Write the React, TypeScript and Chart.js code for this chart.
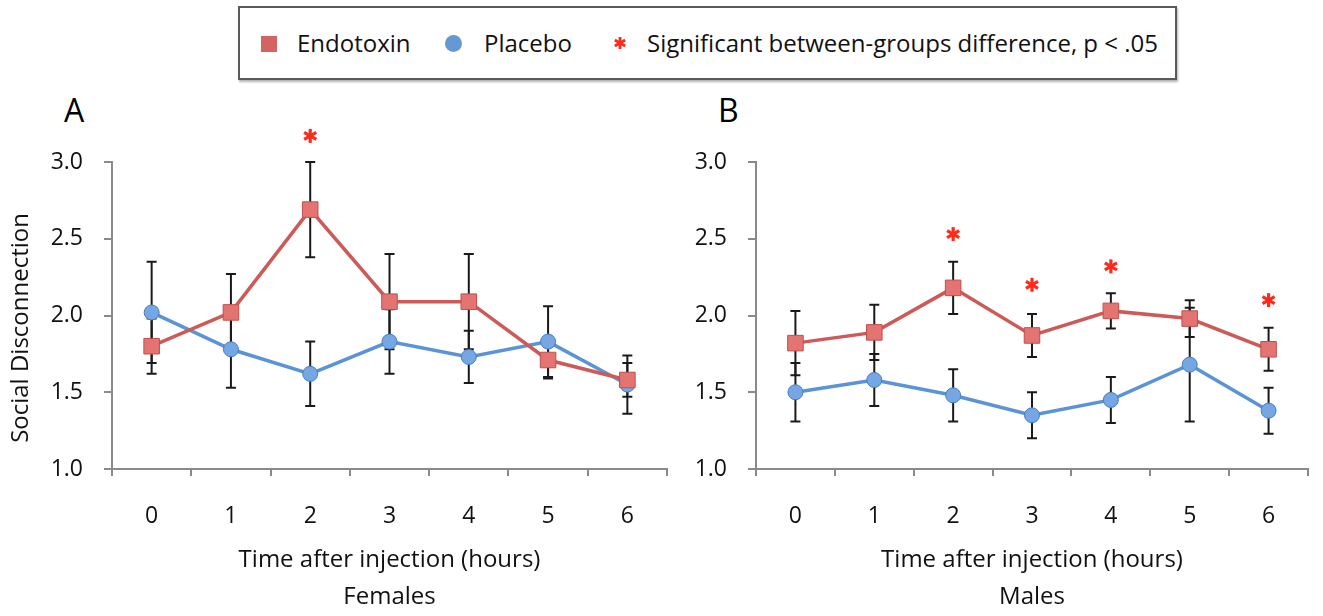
import { useEffect, useRef } from 'react'
import { Chart, registerables } from 'chart.js'

Chart.register(...registerables)

const hours = ['0', '1', '2', '3', '4', '5', '6']

const femalesEndotoxin = [1.80, 2.02, 2.69, 2.09, 2.09, 1.71, 1.58]
const femalesEndotoxinErr = [0.18, 0.25, 0.31, 0.31, 0.31, 0.12, 0.11]
const femalesPlacebo = [2.02, 1.78, 1.62, 1.83, 1.73, 1.83, 1.55]
const femalesPlaceboErr = [0.33, 0.25, 0.21, 0.21, 0.17, 0.23, 0.19]
const femalesStars = [null, null, 3.17, null, null, null, null]

const malesEndotoxin = [1.82, 1.89, 2.18, 1.87, 2.03, 1.98, 1.78]
const malesEndotoxinErr = [0.21, 0.18, 0.17, 0.14, 0.115, 0.12, 0.14]
const malesPlacebo = [1.50, 1.58, 1.48, 1.35, 1.45, 1.68, 1.38]
const malesPlaceboErr = [0.19, 0.17, 0.17, 0.15, 0.15, 0.37, 0.15]
const malesStars = [null, null, 2.53, 2.20, 2.32, null, 2.10]

const yTicks = [1.0, 1.5, 2.0, 2.5, 3.0]

const FONT = '"Open Sans", sans-serif'
const RED_LINE = '#cc5a57'
const RED_FILL = '#e37472'
const RED_EDGE = '#c0504d'
const BLUE_LINE = '#5a93d8'
const BLUE_FILL = '#74a7e4'
const BLUE_EDGE = '#4a7ebb'
const STAR = '#ff2a1a'

function drawStar(ctx: CanvasRenderingContext2D, x: number, y: number, r: number) {
  ctx.save()
  ctx.strokeStyle = STAR
  ctx.lineWidth = 3.2
  ctx.lineCap = 'butt'
  for (let k = 0; k < 3; k++) {
    const a = Math.PI / 2 + (k * Math.PI) / 3
    ctx.beginPath()
    ctx.moveTo(x - r * Math.cos(a), y - r * Math.sin(a))
    ctx.lineTo(x + r * Math.cos(a), y + r * Math.sin(a))
    ctx.stroke()
  }
  ctx.restore()
}

// error bars under the lines, asterisks on top
const errorBars = {
  id: 'errorBars',
  beforeDatasetsDraw(chart: any) {
    const { ctx, scales } = chart
    ctx.save()
    ctx.strokeStyle = '#1a1a1a'
    ctx.lineWidth = 2
    chart.data.datasets.forEach((ds: any) => {
      if (!ds.errors) return
      ds.data.forEach((v: number, i: number) => {
        const x = scales.x.getPixelForValue(i)
        const top = scales.y.getPixelForValue(v + ds.errors[i])
        const bot = scales.y.getPixelForValue(v - ds.errors[i])
        ctx.beginPath()
        ctx.moveTo(x, top)
        ctx.lineTo(x, bot)
        ctx.moveTo(x - 5, top)
        ctx.lineTo(x + 5, top)
        ctx.moveTo(x - 5, bot)
        ctx.lineTo(x + 5, bot)
        ctx.stroke()
      })
    })
    ctx.restore()
  },
  afterDatasetsDraw(chart: any) {
    const stars = chart.options.plugins.errorBars?.stars || []
    const { ctx, scales } = chart
    stars.forEach((v: number | null, i: number) => {
      if (v == null) return
      drawStar(ctx, scales.x.getPixelForValue(i), scales.y.getPixelForValue(v), 7)
    })
  },
}

interface PanelProps {
  endotoxin: number[]
  endotoxinErr: number[]
  placebo: number[]
  placeboErr: number[]
  stars: (number | null)[]
  group: string
  yTitle: boolean
  axisWidth: number
  padRight: number
  width: number
}

function Panel(p: PanelProps) {
  const ref = useRef<HTMLCanvasElement>(null)

  useEffect(() => {
    if (!ref.current) return
    const chart = new Chart(ref.current, {
      type: 'line',
      data: {
        labels: hours,
        datasets: [
          {
            label: 'Endotoxin',
            data: p.endotoxin,
            errors: p.endotoxinErr,
            borderColor: RED_LINE,
            borderWidth: 3.5,
            pointStyle: 'rect',
            pointRadius: 11,
            pointBackgroundColor: RED_FILL,
            pointBorderColor: RED_EDGE,
            pointBorderWidth: 1,
            tension: 0,
          } as any,
          {
            label: 'Placebo',
            data: p.placebo,
            errors: p.placeboErr,
            borderColor: BLUE_LINE,
            borderWidth: 3.5,
            pointStyle: 'circle',
            pointRadius: 7.5,
            pointBackgroundColor: BLUE_FILL,
            pointBorderColor: BLUE_EDGE,
            pointBorderWidth: 1,
            tension: 0,
          } as any,
        ],
      },
      options: {
        animation: false,
        responsive: false,
        events: [],
        layout: { padding: { left: 0, right: p.padRight, top: 77, bottom: 0 } },
        plugins: {
          legend: { display: false },
          tooltip: { enabled: false },
          errorBars: { stars: p.stars },
        } as any,
        scales: {
          x: {
            type: 'category',
            offset: true,
            grid: {
              offset: true,
              drawOnChartArea: false,
              drawTicks: true,
              tickLength: 7,
              color: '#8a8a8a',
              lineWidth: 2,
            },
            border: { display: true, color: '#8a8a8a', width: 2 },
            ticks: { color: '#111', font: { family: FONT, size: 23 }, padding: 27, maxRotation: 0 },
            title: {
              display: true,
              text: ['Time after injection (hours)', p.group],
              color: '#111',
              font: { family: FONT, size: 24, lineHeight: 1.55 },
              padding: { top: 0, bottom: 0 },
            },
            afterFit: (s: any) => { s.height = 147 },
          },
          y: {
            min: 1,
            max: 3,
            afterBuildTicks: (s: any) => { s.ticks = yTicks.map(v => ({ value: v })) },
            grid: {
              drawOnChartArea: false,
              drawTicks: true,
              tickLength: 8,
              color: '#8a8a8a',
              lineWidth: 2,
            },
            border: { display: true, color: '#8a8a8a', width: 2 },
            ticks: {
              color: '#111',
              font: { family: FONT, size: 23 },
              padding: 21,
              callback: (v: any) => Number(v).toFixed(1),
            },
            title: {
              display: p.yTitle,
              // trailing spaces push the rotated label a little below centre, as in the original
              text: 'Social Disconnection    ',
              color: '#111',
              font: { family: FONT, size: 24, lineHeight: 1.2 },
              padding: { top: 7, bottom: 0 },
            },
            afterFit: (s: any) => { s.width = p.axisWidth },
          },
        },
      },
      plugins: [errorBars],
    })
    return () => chart.destroy()
  }, [])

  return <canvas ref={ref} width={p.width} height={531} style={{ display: 'block' }} />
}

function StarIcon() {
  const lines = [0, 1, 2].map(k => {
    const a = Math.PI / 2 + (k * Math.PI) / 3
    return (
      <line key={k} x1={8 - 6 * Math.cos(a)} y1={8 - 6 * Math.sin(a)} x2={8 + 6 * Math.cos(a)} y2={8 + 6 * Math.sin(a)}
        stroke={STAR} strokeWidth={2.8} />
    )
  })
  return <svg width={16} height={16} style={{ position: 'absolute', left: 612, top: 35 }}>{lines}</svg>
}

export default function App() {
  const text: React.CSSProperties = {
    position: 'absolute', fontFamily: FONT, fontSize: 24, color: '#111', lineHeight: '28px', top: 29, whiteSpace: 'nowrap',
  }
  return (
    <div style={{ position: 'absolute', left: 0, top: 0, width: 1323, height: 616, background: '#fff', overflow: 'hidden' }}>
      <div style={{
        position: 'absolute', left: 238, top: 6, width: 935, height: 70,
        border: '2px solid #5a5a5a', boxShadow: '1px 2px 2px rgba(0,0,0,0.3)', background: '#fff',
      }} />
      <div style={{ position: 'absolute', left: 261, top: 36, width: 16, height: 16, background: '#d46462' }} />
      <span style={{ ...text, left: 297 }}>Endotoxin</span>
      <div style={{ position: 'absolute', left: 445, top: 35, width: 17, height: 17, borderRadius: '50%', background: '#6699d3' }} />
      <span style={{ ...text, left: 484 }}>Placebo</span>
      <StarIcon />
      <span style={{ ...text, left: 647 }}>Significant between-groups difference, p &lt; .05</span>

      <span style={{ position: 'absolute', left: 64, top: 88, fontFamily: FONT, fontSize: 32, color: '#000' }}>A</span>
      <span style={{ position: 'absolute', left: 718, top: 88, fontFamily: FONT, fontSize: 32, color: '#000' }}>B</span>

      <div style={{ position: 'absolute', left: 0, top: 85, width: 680, height: 531 }}>
        <Panel endotoxin={femalesEndotoxin} endotoxinErr={femalesEndotoxinErr} placebo={femalesPlacebo}
          placeboErr={femalesPlaceboErr} stars={femalesStars} group="Females" yTitle={true} axisWidth={112} padRight={13} width={680} />
      </div>
      <div style={{ position: 'absolute', left: 680, top: 85, width: 643, height: 531 }}>
        <Panel endotoxin={malesEndotoxin} endotoxinErr={malesEndotoxinErr} placebo={malesPlacebo}
          placeboErr={malesPlaceboErr} stars={malesStars} group="Males" yTitle={false} axisWidth={76} padRight={15} width={643} />
      </div>
    </div>
  )
}
